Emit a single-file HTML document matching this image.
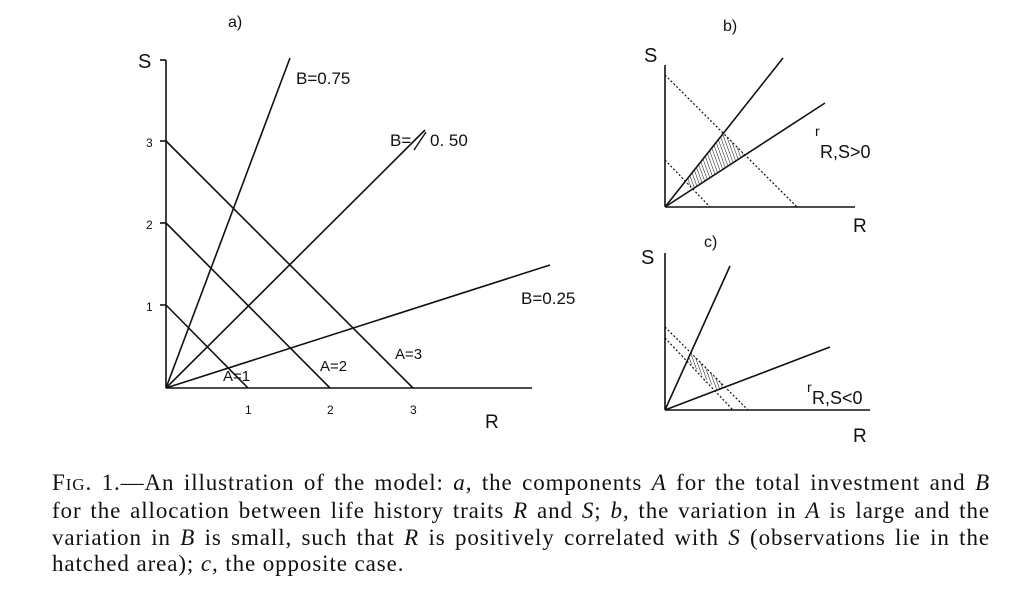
<!DOCTYPE html>
<html><head><meta charset="utf-8"><style>
html,body{margin:0;padding:0;background:#fff;}
body{width:1024px;height:601px;position:relative;overflow:hidden;}
svg{position:absolute;left:0;top:0;}
.cap{position:absolute;left:52px;top:470px;width:938px;font-family:"Liberation Serif",serif;font-size:23px;line-height:26.3px;color:#111;letter-spacing:0.9px;}
.cap div{text-align:justify;text-align-last:justify;white-space:nowrap;}
.cap div.last{text-align-last:left;}
.cap i{font-style:italic;}
</style></head><body>
<svg width="1024" height="601" viewBox="0 0 1024 601">
<defs>
<pattern id="h" width="3" height="3" patternUnits="userSpaceOnUse" patternTransform="rotate(-20)">
<line x1="0" y1="0" x2="0" y2="3" stroke="#111" stroke-width="1"/>
</pattern>
</defs>
<g stroke="#111" stroke-width="1.6" fill="none">
<line x1="166" y1="60" x2="166" y2="388"/>
<line x1="166" y1="388" x2="532" y2="388"/>
<line x1="160" y1="60" x2="166" y2="60"/>
<line x1="160" y1="141" x2="166" y2="141"/>
<line x1="160" y1="223" x2="166" y2="223"/>
<line x1="160" y1="305" x2="166" y2="305"/>
<line x1="166" y1="305" x2="248" y2="388"/>
<line x1="166" y1="223" x2="330" y2="388"/>
<line x1="166" y1="141" x2="413" y2="388"/>
<line x1="166" y1="388" x2="290" y2="58"/>
<line x1="166" y1="388" x2="425" y2="130"/>
<line x1="166" y1="388" x2="550" y2="265"/>
<line x1="665" y1="65" x2="665" y2="207"/>
<line x1="665" y1="207" x2="855" y2="207"/>
<line x1="665" y1="207" x2="783" y2="58"/>
<line x1="665" y1="207" x2="825" y2="103"/>
<line x1="665" y1="253" x2="665" y2="410"/>
<line x1="665" y1="410" x2="870" y2="410"/>
<line x1="665" y1="410" x2="730" y2="266"/>
<line x1="665" y1="410" x2="830" y2="347"/>
</g>
<g stroke="#111" stroke-width="1.2" stroke-dasharray="2,2" fill="none">
<line x1="665" y1="75" x2="797" y2="207"/>
<line x1="665" y1="160" x2="710" y2="207"/>
<line x1="665" y1="327" x2="748" y2="410"/>
<line x1="665" y1="338" x2="733" y2="410"/>
</g>
<polygon points="685,181 723,133 745,155 693,189" fill="url(#h)"/>
<polygon points="691,353 725,387 717,390 687,360" fill="url(#h)"/>
<g font-family="Liberation Sans, sans-serif" fill="#111">
<text x="228" y="27" font-size="16">a)</text>
<text x="138" y="68" font-size="20">S</text>
<text x="146" y="147" font-size="12">3</text>
<text x="146" y="229" font-size="12">2</text>
<text x="146" y="311" font-size="12">1</text>
<text x="245" y="414" font-size="12">1</text>
<text x="327" y="414" font-size="12">2</text>
<text x="410" y="414" font-size="12">3</text>
<text x="485" y="428" font-size="19">R</text>
<text x="296" y="84" font-size="17">B=0.75</text>
<text x="390" y="146" font-size="17">B=</text>
<line x1="414" y1="150" x2="426" y2="132" stroke="#111" stroke-width="1.4"/>
<text x="430" y="146" font-size="17">0. 50</text>
<text x="521" y="304" font-size="17">B=0.25</text>
<text x="223" y="381" font-size="15">A=1</text>
<text x="320" y="371" font-size="15">A=2</text>
<text x="395" y="359" font-size="15">A=3</text>
<text x="723" y="31" font-size="16">b)</text>
<text x="644" y="62" font-size="20">S</text>
<text x="815" y="136" font-size="14">r</text>
<text x="820" y="158" font-size="18">R,S&gt;0</text>
<text x="853" y="232" font-size="19">R</text>
<text x="704" y="247" font-size="16">c)</text>
<text x="641" y="264" font-size="20">S</text>
<text x="807" y="392" font-size="14">r</text>
<text x="812" y="404" font-size="18">R,S&lt;0</text>
<text x="853" y="442" font-size="19">R</text>
</g>
</svg>
<div class="cap">
<div>F<span style="font-size:17px">IG</span>. 1.—An illustration of the model: <i>a,</i> the components <i>A</i> for the total investment and <i>B</i></div>
<div>for the allocation between life history traits <i>R</i> and <i>S</i>; <i>b,</i> the variation in <i>A</i> is large and the</div>
<div>variation in <i>B</i> is small, such that <i>R</i> is positively correlated with <i>S</i> (observations lie in the</div>
<div class="last">hatched area); <i>c,</i> the opposite case.</div>
</div>
</body></html>
